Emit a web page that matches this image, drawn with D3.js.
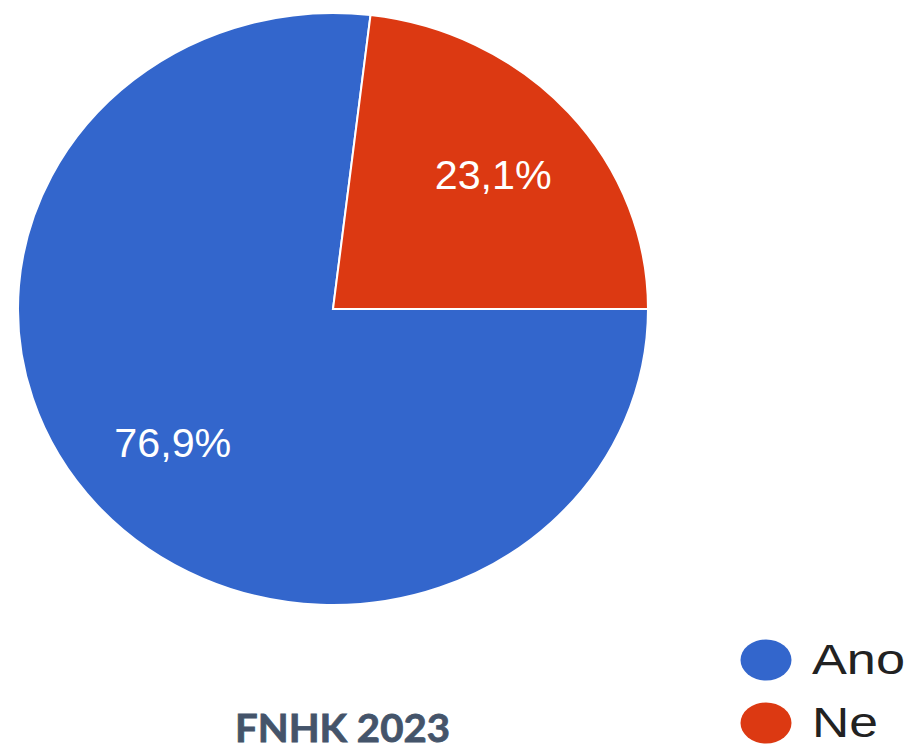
<!DOCTYPE html>
<html>
<head>
<meta charset="utf-8">
<script src="https://cdn.jsdelivr.net/npm/d3@7"></script>
<style>
  html, body { margin: 0; padding: 0; background: #ffffff; }
  svg { display: block; }
</style>
</head>
<body>
<svg id="chart" width="907" height="751"></svg>
<script>
// Survey answers (percent of respondents)
const categories = ["Ano", "Ne"];
const values = [76.9, 23.1];
const labels = ["76,9%", "23,1%"];
const colors = ["#3366cc", "#dc3912"];
const title = "FNHK 2023";

const svg = d3.select("#chart");

// Pie geometry: drawn as a circle and stretched horizontally into an ellipse
const cx = 333, cy = 309;
const ry = 296, rx = 315;
const sx = rx / ry;

const pie = d3.pie()
  .sort(null)
  .value(d => d)
  .startAngle(Math.PI / 2)
  .endAngle(Math.PI / 2 + 2 * Math.PI);

const arcs = pie(values);
const arc = d3.arc().innerRadius(0).outerRadius(ry);
const labelArc = d3.arc().innerRadius(ry * 0.68).outerRadius(ry * 0.68);

const gPie = svg.append("g")
  .attr("transform", `translate(${cx},${cy}) scale(${sx},1)`);

gPie.selectAll("path")
  .data(arcs)
  .join("path")
  .attr("d", arc)
  .attr("fill", (d, i) => colors[i])
  .attr("stroke", "#ffffff")
  .attr("stroke-width", 2)
  .attr("vector-effect", "non-scaling-stroke");

// Percentage labels inside slices
const gLabels = svg.append("g").attr("transform", `translate(${cx},${cy})`);
gLabels.selectAll("text")
  .data(arcs)
  .join("text")
  .attr("x", d => labelArc.centroid(d)[0] * sx)
  .attr("y", d => labelArc.centroid(d)[1] + 14)
  .attr("text-anchor", "middle")
  .attr("font-family", "Liberation Sans, Arial, sans-serif")
  .attr("font-size", 40)
  .attr("fill", "#ffffff")
  .attr("textLength", 117)
  .attr("lengthAdjust", "spacingAndGlyphs")
  .text((d, i) => labels[i]);

// Legend
const legend = svg.append("g");
const legendY = d3.scalePoint().domain(categories).range([660, 723]);
const item = legend.selectAll("g")
  .data(categories)
  .join("g")
  .attr("transform", d => `translate(0,${legendY(d)})`);

item.append("ellipse")
  .attr("cx", 766)
  .attr("cy", 0)
  .attr("rx", 25.5)
  .attr("ry", 20.5)
  .attr("fill", (d, i) => colors[i]);

item.append("text")
  .attr("x", 812)
  .attr("y", 14)
  .attr("font-family", "Liberation Sans, Arial, sans-serif")
  .attr("font-size", 42)
  .attr("fill", "#222222")
  .attr("textLength", (d, i) => i === 0 ? 93 : 66)
  .attr("lengthAdjust", "spacingAndGlyphs")
  .text(d => d);

// Title below the pie
svg.append("text")
  .attr("x", 235)
  .attr("y", 742)
  .attr("font-family", "Lato, 'Open Sans', sans-serif")
  .attr("font-weight", "bold")
  .attr("font-size", 39)
  .attr("fill", "#44546a")
  .attr("stroke", "#44546a")
  .attr("stroke-width", 0.8)
  .attr("textLength", 215)
  .attr("lengthAdjust", "spacingAndGlyphs")
  .text(title);
</script>
</body>
</html>
